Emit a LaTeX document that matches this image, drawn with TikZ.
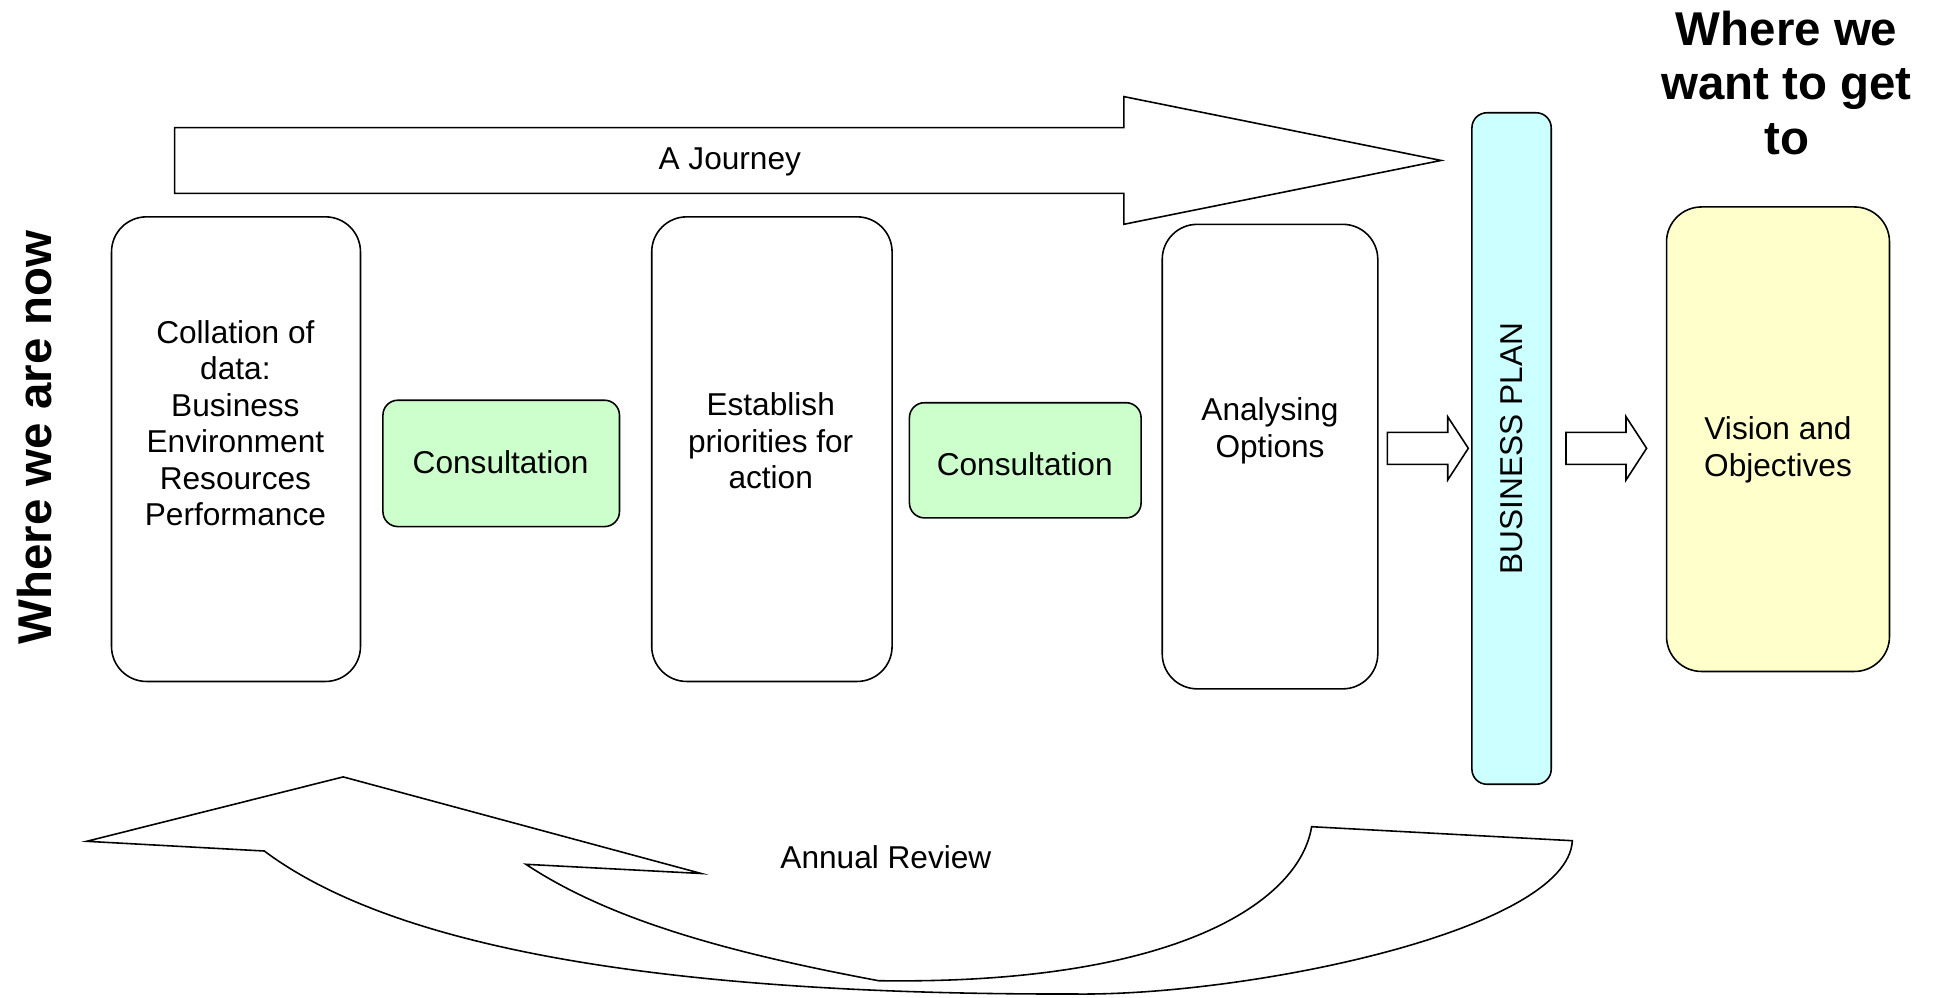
\documentclass[tikz,border=0pt]{standalone}
\usepackage{fontspec}
\setmainfont{Liberation Sans}
\definecolor{consultgreen}{HTML}{CCFFCC}
\definecolor{plancyan}{HTML}{CCFFFF}
\definecolor{visionyellow}{HTML}{FFFFCC}
\begin{document}
\begin{tikzpicture}[x=0.02cm,y=-0.02cm,
  bigbox/.style={draw, rounded corners=0.7cm, fill=white, line width=0.9pt, inner sep=0pt},
  consult/.style={draw, rounded corners=0.3cm, fill=consultgreen, line width=0.9pt, inner sep=0pt},
  planbox/.style={draw, rounded corners=0.3cm, fill=plancyan, line width=0.9pt, inner sep=0pt},
  visionbox/.style={draw, rounded corners=0.7cm, fill=visionyellow, line width=0.9pt, inner sep=0pt},
  txt/.style={font=\fontsize{18}{20.75}\selectfont, align=center, inner sep=0pt},
  headline/.style={font=\fontsize{27}{30.9}\selectfont\bfseries, align=center, inner sep=0pt},
  blockarrow/.style={draw, fill=white, line width=0.9pt, line join=miter}]
\useasboundingbox (0,0) rectangle (1943,997);

% Journey arrow
\draw[blockarrow] (174.7,127.6) -- (1123.8,127.6) -- (1123.8,96.6) -- (1441,160.45)
  -- (1123.8,224.3) -- (1123.8,193.3) -- (174.7,193.3) -- cycle;
\node[txt] (journey) at (729.8,162) {A Journey};

% Boxes
\node[bigbox, minimum width=4.98cm, minimum height=9.294cm] (collation) at (236,449.15) {};
\node[txt] (collationtext) at (235.4,423.1) {Collation of\\data:\\Business\\Environment\\Resources\\Performance};

\node[consult, minimum width=4.732cm, minimum height=2.528cm] (consult1) at (501.2,463.4) {};
\node[txt] (consult1text) at (500.6,462.1) {Consultation};

\node[bigbox, minimum width=4.808cm, minimum height=9.294cm] (establish) at (771.9,449.15) {};
\node[txt] (establishtext) at (770.7,441) {Establish\\priorities for\\action};

\node[consult, minimum width=4.634cm, minimum height=2.304cm] (consult2) at (1025.25,460.3) {};
\node[txt] (consult2text) at (1024.7,464.6) {Consultation};

\node[bigbox, minimum width=4.312cm, minimum height=9.292cm] (analysing) at (1270,456.6) {};
\node[txt] (analysingtext) at (1270,431) {Analysing\\Options};

\node[planbox, minimum width=1.586cm, minimum height=13.432cm] (plan) at (1511.55,448.5) {};
\node[txt, rotate=90] (plantext) at (1511.6,448.5) {BUSINESS PLAN};

\node[visionbox, minimum width=4.46cm, minimum height=9.292cm] (vision) at (1778,439.2) {};
\node[txt] (visiontext) at (1778,450) {Vision and\\Objectives};

% small block arrows
\draw[blockarrow] (1387.3,432.3) -- (1447.7,432.3) -- (1447.7,416.7) -- (1468.3,448.3)
  -- (1447.7,480) -- (1447.7,464.3) -- (1387.3,464.3) -- cycle;
\draw[blockarrow] (1566,432.3) -- (1626,432.3) -- (1626,416.7) -- (1646.6,448.3)
  -- (1626,480) -- (1626,464.3) -- (1566,464.3) -- cycle;

% Titles
\node[headline, rotate=90] (nowtitle) at (34.7,437.4) {Where we are now};
\node[headline] (goaltitle) at (1786.6,83) {Where we\\want to get\\to};

% Annual review curved arrow
\draw[blockarrow] (86.7,841.3) -- (343.2,776.9) -- (701.3,873.5) -- (525.9,864.3)
  .. controls (610,920) and (728.6,952.7) .. (878.6,980.7)
  .. controls (1180,985) and (1300,900) .. (1311.6,826.7)
  -- (1572.3,840.7)
  .. controls (1568,930) and (1250,996) .. (1075,994)
  .. controls (650,995) and (390,945) .. (264.3,851)
  -- cycle;
\node[txt] (review) at (885.9,857.4) {Annual Review};
\end{tikzpicture}
\end{document}
